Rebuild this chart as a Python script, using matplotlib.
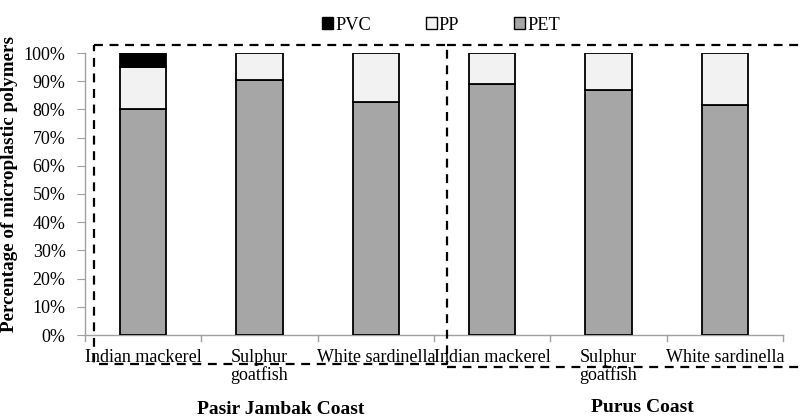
import matplotlib
matplotlib.use("Agg")
import matplotlib.pyplot as plt
import numpy as np
from matplotlib.patches import Rectangle
from matplotlib.lines import Line2D

plt.rcParams['font.family'] = ['Liberation Serif', 'DejaVu Serif']

categories = ["Indian mackerel", "Sulphur\ngoatfish", "White sardinella",
              "Indian mackerel", "Sulphur\ngoatfish", "White sardinella"]
groups = ["Pasir Jambak Coast", "Purus Coast"]
pet = [80.0, 90.5, 82.5, 89.0, 87.0, 81.5]
pp = [15.0, 9.5, 17.5, 11.0, 13.0, 18.5]
pvc = [5.0, 0.0, 0.0, 0.0, 0.0, 0.0]
series_names = ["PVC", "PP", "PET"]
colors = {"PVC": "#000000", "PP": "#f2f2f2", "PET": "#a6a6a6"}

fig = plt.figure(figsize=(8.02, 4.17), dpi=100)
ax = fig.add_axes([85/802, 1-335/417, (783-85)/802, (335-53)/417])

x = np.arange(len(categories))
w = 0.4
ax.bar(x, pet, w, color=colors["PET"], edgecolor="black", linewidth=1.3, label="PET", zorder=3)
ax.bar(x, pp, w, bottom=pet, color=colors["PP"], edgecolor="black", linewidth=1.3, label="PP", zorder=3)
pvc_x = [xi for xi, v in zip(x, pvc) if v > 0]
pvc_v = [v for v in pvc if v > 0]
pvc_b = [p + q for p, q, v in zip(pet, pp, pvc) if v > 0]
ax.bar(pvc_x, pvc_v, w, bottom=pvc_b, color=colors["PVC"], edgecolor="black", linewidth=1.3, label="PVC", zorder=3)

ax.set_xlim(-0.5, len(categories) - 0.5)
ax.set_ylim(0, 100)
ax.set_yticks(np.arange(0, 101, 10))
ax.set_yticklabels([f"{v}%" for v in range(0, 101, 10)], fontsize=13)
ax.set_xticks(x)
ax.set_xticklabels(categories, fontsize=13, linespacing=1.05)
ax.tick_params(axis='x', length=0, pad=10)
ax.tick_params(axis='y', length=6, color="#a0a0a0", pad=8)
for s in ["top", "right"]:
    ax.spines[s].set_visible(False)
for s in ["left", "bottom"]:
    ax.spines[s].set_color("#a0a0a0")
    ax.spines[s].set_linewidth(1.0)
# category boundary ticks on x axis
for b in np.arange(-0.5, len(categories), 1.0):
    ax.plot([b, b], [0, -2.3], color="#a0a0a0", lw=1.0, clip_on=False, transform=ax.transData)

ax.set_ylabel("Percentage of microplastic polymers", fontsize=13.8, fontweight="bold")
ax.yaxis.set_label_coords((18 - 85)/698, (335-184)/282)

# legend
handles = [Rectangle((0, 0), 1, 1, facecolor=colors[n], edgecolor="black", lw=1.0) for n in series_names]
fig.legend(handles, series_names, loc="center", bbox_to_anchor=(441/802, 1-25/417), ncol=3,
           frameon=False, fontsize=13.2, handlelength=0.6, handleheight=0.6, handletextpad=0.1,
           columnspacing=3.0)

# group labels
fig.text(281/802, 1-410/417, groups[0], ha="center", va="center", fontsize=14, fontweight="bold")
fig.text(642/802, 1-407/417, groups[1], ha="center", va="center", fontsize=14, fontweight="bold")

# dashed boxes
def fl(xs, ys):
    fig.add_artist(Line2D([v/802 for v in xs], [1 - v/417 for v in ys], color="black",
                          lw=1.6, ls=(0, (4, 3)), transform=fig.transFigure))
fl([94, 447, 447, 94, 94], [45, 45, 364, 364, 45])
fl([447, 802], [45, 45])
fl([447, 802], [367, 367])

fig.savefig("out.png", dpi=100)
